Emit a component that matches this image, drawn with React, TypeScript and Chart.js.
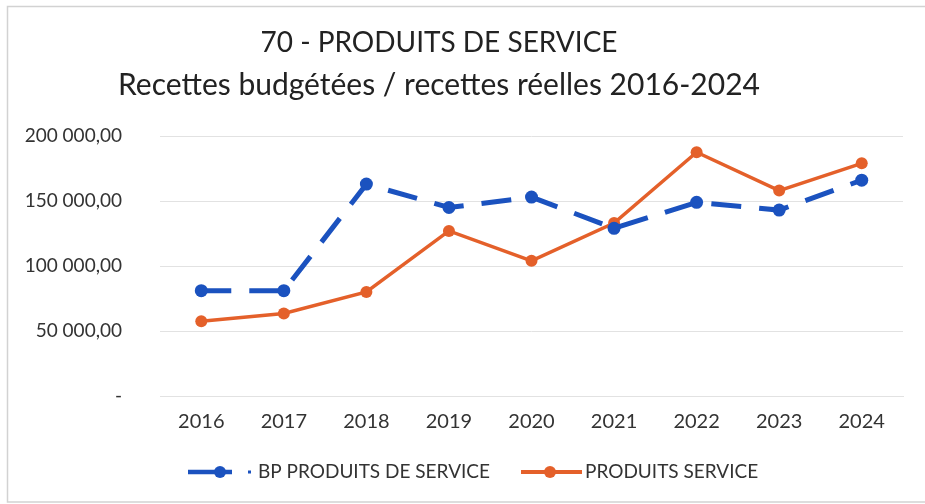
import React, { useEffect, useRef } from "react";
import { Chart, registerables } from "chart.js";

Chart.register(...registerables);

const years = ["2016", "2017", "2018", "2019", "2020", "2021", "2022", "2023", "2024"];
const bpProduits = [81000, 81000, 163000, 145000, 153000, 129000, 149000, 143000, 166000];
const produitsService = [57500, 63500, 80000, 127000, 104000, 133000, 187500, 158000, 179000];
const titleLines = ["70 - PRODUITS DE SERVICE", "Recettes budgétées / recettes réelles 2016-2024"];
const legendLabels = ["BP PRODUITS DE SERVICE", "PRODUITS SERVICE"];

const BLUE = "#1b52bf";
const ORANGE = "#e4602a";
const FONT = "Lato, 'Open Sans', sans-serif";

function fmt(v: number): string {
  if (v === 0) return "-";
  const s = Math.round(v).toString().replace(/\B(?=(\d{3})+(?!\d))/g, " ");
  return s + ",00";
}

const decor = {
  id: "decor",
  afterDraw(chart: any) {
    const ctx = chart.ctx;
    ctx.save();
    // frame
    ctx.strokeStyle = "#d2d2d2";
    ctx.lineWidth = 1.5;
    ctx.beginPath();
    ctx.moveTo(925, 6.5);
    ctx.lineTo(7.5, 6.5);
    ctx.lineTo(7.5, 502);
    ctx.lineTo(925, 502);
    ctx.stroke();
    // title
    ctx.fillStyle = "#222";
    ctx.textAlign = "center";
    ctx.textBaseline = "middle";
    ctx.font = `28px ${FONT}`;
    ctx.fillText(titleLines[0], 439, 43);
    ctx.font = `30px ${FONT}`;
    ctx.fillText(titleLines[1], 439, 85);
    // legend
    const y = 472;
    ctx.font = `19px ${FONT}`;
    ctx.textAlign = "left";
    // blue item
    ctx.strokeStyle = BLUE;
    ctx.lineWidth = 4.5;
    ctx.beginPath();
    ctx.moveTo(188, y);
    ctx.lineTo(232, y);
    ctx.stroke();
    ctx.fillStyle = BLUE;
    ctx.beginPath();
    ctx.arc(220, y, 6, 0, Math.PI * 2);
    ctx.fill();
    ctx.fillRect(248, y - 1.5, 3, 3);
    ctx.fillStyle = "#333";
    ctx.fillText(legendLabels[0], 258, y);
    // orange item
    ctx.strokeStyle = ORANGE;
    ctx.lineWidth = 4;
    ctx.beginPath();
    ctx.moveTo(521, y);
    ctx.lineTo(582, y);
    ctx.stroke();
    ctx.fillStyle = ORANGE;
    ctx.beginPath();
    ctx.arc(550, y, 6, 0, Math.PI * 2);
    ctx.fill();
    ctx.fillStyle = "#333";
    ctx.fillText(legendLabels[1], 585, y);
    ctx.restore();
  },
};

export default function App() {
  const ref = useRef<HTMLCanvasElement>(null);
  useEffect(() => {
    const chart = new Chart(ref.current!, {
      type: "line",
      data: {
        labels: years,
        datasets: [
          {
            label: legendLabels[0],
            data: bpProduits,
            borderColor: BLUE,
            backgroundColor: BLUE,
            borderWidth: 5,
            borderDash: [30, 18],
            pointRadius: 6.5,
            pointHoverRadius: 6.5,
            pointBorderWidth: 0,
            tension: 0,
          },
          {
            label: legendLabels[1],
            data: produitsService,
            borderColor: ORANGE,
            backgroundColor: ORANGE,
            borderWidth: 3.5,
            pointRadius: 6,
            pointHoverRadius: 6,
            pointBorderWidth: 0,
            tension: 0,
          },
        ],
      },
      options: {
        animation: false,
        responsive: false,
        layout: { padding: { left: 0, right: 22, top: 136, bottom: 68 } },
        plugins: { legend: { display: false }, title: { display: false }, tooltip: { enabled: false } },
        scales: {
          x: {
            offset: true,
            grid: { display: false, drawTicks: false },
            border: { display: true, color: "#e2e2e2", width: 1 },
            ticks: { padding: 14, color: "#333", font: { family: FONT, size: 20 } },
            afterFit: (s: any) => { s.height = 40; },
          },
          y: {
            min: 0,
            max: 200000,
            grid: { color: "#e2e2e2", drawTicks: false },
            border: { display: false },
            ticks: {
              stepSize: 50000,
              padding: 38,
              color: "#333",
              font: { family: FONT, size: 19 },
              callback: (v: any) => fmt(Number(v)),
            },
            afterFit: (s: any) => { s.width = 160; },
          },
        },
      },
      plugins: [decor],
    });
    return () => chart.destroy();
  }, []);
  return (
    <div style={{ position: "fixed", left: 0, top: 0, width: 925, height: 504, background: "#fff" }}>
      <canvas ref={ref} width={925} height={504} style={{ display: "block" }} />
    </div>
  );
}
